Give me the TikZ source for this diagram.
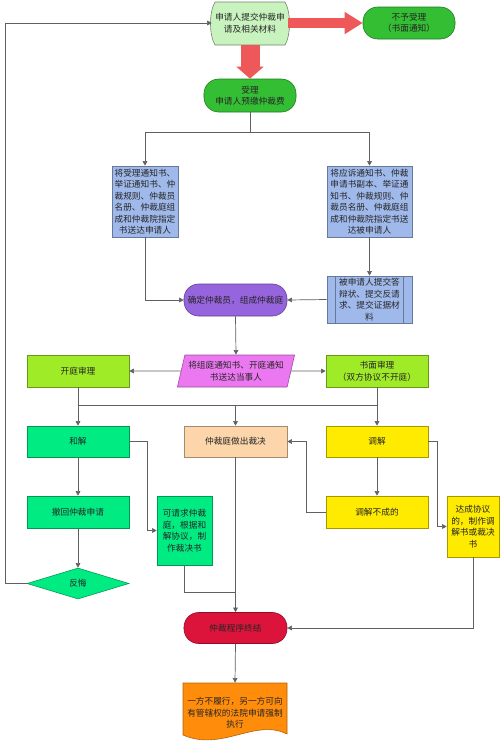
\documentclass[tikz,border=0pt]{standalone}
\usepackage{fontspec}
\usepackage{tikz}
\usetikzlibrary{shapes.geometric, arrows.meta, positioning, calc}
\newfontfamily\cjk{Noto Sans CJK SC}
\definecolor{applygreen}{RGB}{200, 242, 190}
\definecolor{pillgreen}{RGB}{52, 190, 52}
\definecolor{boxblue}{RGB}{160, 185, 235}
\definecolor{panelpurple}{RGB}{150, 100, 220}
\definecolor{noticepink}{RGB}{235, 120, 240}
\definecolor{limegreen}{RGB}{160, 235, 40}
\definecolor{springgreen}{RGB}{0, 235, 130}
\definecolor{awardpeach}{RGB}{252, 214, 170}
\definecolor{mediateyellow}{RGB}{255, 235, 0}
\definecolor{finishred}{RGB}{220, 20, 60}
\definecolor{enforceorange}{RGB}{255, 140, 10}
\definecolor{blockred}{RGB}{238, 88, 88}

\tikzset{
  flowbox/.style={draw=#1!65!black, fill=#1, line width=0.5pt, inner sep=1pt,
                  align=center, text=black!85,
                  font=\cjk\fontsize{7.4}{9.8}\selectfont},
  pill/.style={flowbox=#1, rounded corners=0.44cm},
  link/.style={draw=gray!75!black, line width=0.6pt},
  linkarrow/.style={link, -{Triangle[length=4pt, width=4pt]}},
  blockarrow/.style={draw=blockred, line width=#1}
}

\begin{document}
\begin{tikzpicture}[x=0.03cm, y=-0.03cm]
    \useasboundingbox (0,0) rectangle (500,744);

    % top of the flow
    \draw[draw=applygreen!55!black, fill=applygreen, line width=0.5pt]
        (215,2) -- (285,2) .. controls (291,12) and (291,35) .. (285,45)
        -- (215,45) .. controls (209,35) and (209,12) .. (215,2) -- cycle;
    \node[flowbox=applygreen, draw=none, fill=none, minimum width=2.28cm, minimum height=1.29cm]
        (apply) at (250,23) {申请人提交仲裁申\\请及相关材料};
    \node[pill=pillgreen, minimum width=2.76cm, minimum height=0.96cm]
        (reject) at (409,23) {不予受理\\（书面通知）};
    \node[pill=pillgreen, minimum width=2.76cm, minimum height=0.99cm]
        (accept) at (250,95.5) {受理\\申请人预缴仲裁费};

    % service of documents
    \node[flowbox=boxblue, minimum width=1.98cm, minimum height=2.13cm]
        (notifyA) at (145,201.5) {将受理通知书、\\举证通知书、仲\\裁规则、仲裁员\\名册、仲裁庭组\\成和仲裁院指定\\书送达申请人};
    \node[flowbox=boxblue, minimum width=2.55cm, minimum height=2.13cm]
        (notifyB) at (369.5,201.5) {将应诉通知书、仲裁\\申请书副本、举证通\\知书、仲裁规则、仲\\裁员名册、仲裁庭组\\成和仲裁院指定书送\\达被申请人};
    \node[flowbox=boxblue, minimum width=2.55cm, minimum height=1.41cm]
        (reply) at (369.5,299.5) {被申请人提交答\\辩状、提交反请\\求、提交证据材\\料};
    \draw[draw=boxblue!65!black, line width=0.5pt]
        ([xshift=0.27cm]reply.north west) -- ([xshift=0.27cm]reply.south west)
        ([xshift=-0.27cm]reply.north east) -- ([xshift=-0.27cm]reply.south east);
    \node[pill=panelpurple, minimum width=3.09cm, minimum height=0.96cm]
        (panel) at (235.5,300) {确定仲裁员，组成仲裁庭};
    \node[flowbox=noticepink, trapezium, trapezium left angle=72, trapezium right angle=108,
          trapezium stretches=true, minimum width=3.54cm, minimum height=0.96cm]
        (notice) at (236,371) {将组庭通知书、开庭通知\\书送达当事人};

    % hearing
    \node[flowbox=limegreen, minimum width=3.06cm, minimum height=0.96cm]
        (hearing) at (78,371) {开庭审理};
    \node[flowbox=limegreen, minimum width=3.06cm, minimum height=0.96cm]
        (written) at (377,371) {书面审理\\（双方协议不开庭）};
    \node[flowbox=springgreen, minimum width=3.06cm, minimum height=0.93cm]
        (settle) at (78,441.5) {和解};
    \node[flowbox=awardpeach, minimum width=3.09cm, minimum height=0.93cm]
        (award) at (235.5,441.5) {仲裁庭做出裁决};
    \node[flowbox=mediateyellow, minimum width=3.06cm, minimum height=0.93cm]
        (mediate) at (377,441.5) {调解};
    \node[flowbox=springgreen, minimum width=3.06cm, minimum height=0.96cm]
        (withdraw) at (78,512) {撤回仲裁申请};
    \node[flowbox=springgreen, minimum width=1.65cm, minimum height=2.07cm]
        (agreeaward) at (184.5,530.5) {可请求仲裁\\庭，根据和\\解协议，制\\作裁决书};
    \node[flowbox=mediateyellow, minimum width=3.06cm, minimum height=0.96cm]
        (fail) at (377,512) {调解不成的};
    \node[flowbox=mediateyellow, minimum width=1.56cm, minimum height=1.83cm]
        (mediatedoc) at (473,526.5) {达成协议\\的，制作调\\解书或裁决\\书};
    \node[flowbox=springgreen, diamond, inner sep=0pt, minimum width=3.06cm, minimum height=0.93cm]
        (regret) at (78,583.5) {反悔};

    % end of the procedure
    \node[pill=finishred, minimum width=3.09cm, minimum height=0.93cm]
        (finish) at (235.5,628) {仲裁程序终结};
    \draw[draw=enforceorange!70!black, fill=enforceorange, line width=0.5pt]
        (183,683) -- (287,683) -- (287,734)
        .. controls (255,718) and (222,752) .. (183,735) -- cycle;
    \node[flowbox=enforceorange, draw=none, fill=none, minimum width=3.12cm, minimum height=1.8cm]
        (enforce) at (235,713) {一方不履行，另一方可向\\有管辖权的法院申请强制\\执行};

    % connectors
    \draw[blockarrow=0.3cm, -{Triangle[width=0.63cm, length=0.54cm, fill=blockred]}]
        (apply.east) -- (reject.west);
    \draw[blockarrow=0.57cm, -{Triangle[width=0.8cm, length=0.36cm, fill=blockred]}]
        (apply.south) -- (accept.north);
    \draw[linkarrow] (accept.south) -- ++(0,20) -| (notifyA.north);
    \draw[linkarrow] (accept.south) -- ++(0,20) -| (notifyB.north);
    \draw[linkarrow] (notifyB.south) -- (reply.north);
    \draw[linkarrow] (notifyA.south) |- (panel.west);
    \draw[linkarrow] (reply.west) -- (panel.east);
    \draw[linkarrow] (panel.south) -- (notice.north);
    \draw[linkarrow] (notice.west) -- (hearing.east);
    \draw[linkarrow] (notice.east) -- (written.west);
    \coordinate (bus) at (0,405);
    \draw[link] (hearing.south |- bus) -- (written.south |- bus);
    \draw[linkarrow] (hearing.south) -- (settle.north);
    \draw[linkarrow] (written.south) -- (mediate.north);
    \draw[linkarrow] (award.north |- bus) -- (award.north);
    \draw[linkarrow] (settle.east) -- ++(18,0) |- (agreeaward.west);
    \draw[linkarrow] (settle.south) -- (withdraw.north);
    \draw[linkarrow] (withdraw.south) -- (regret.north);
    \draw[linkarrow] (regret.west) -- ++(-21,0) |- (apply.west);
    \draw[linkarrow] (award.south) -- (finish.north);
    \draw[link] (agreeaward.south) |- (award.south |- 0,592);
    \draw[linkarrow] (mediate.east) -- ++(9,0) |- (mediatedoc.west);
    \draw[linkarrow] (mediate.south) -- (fail.north);
    \draw[linkarrow] (fail.west) -- ++(-19,0) |- (award.east);
    \draw[linkarrow] (mediatedoc.south) |- (finish.east);
    \draw[linkarrow] (finish.south) -- (enforce.north);
\end{tikzpicture}
\end{document}
